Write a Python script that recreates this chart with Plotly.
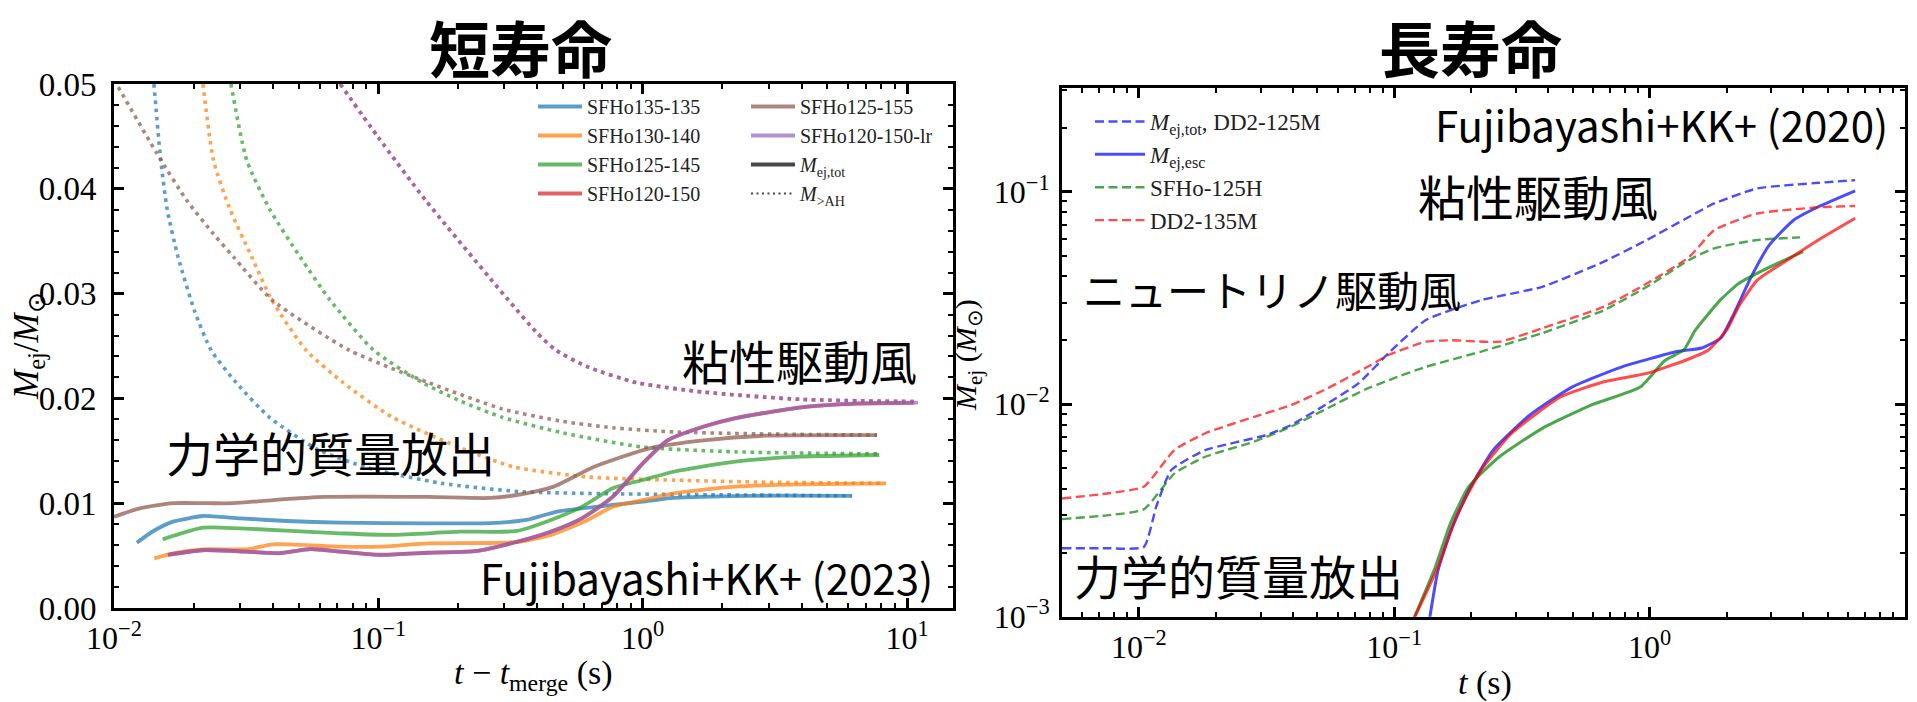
import plotly.graph_objects as go

# ---------------- short-lived remnants (left panel) ----------------
# solid: M_ej,tot ; dotted: M_>AH  (t - t_merge in s, mass in M_sun)
t_135_135 = [0.0122, 0.0140, 0.0167, 0.0195, 0.0217, 0.030, 0.045, 0.0717, 0.155, 0.265, 0.363, 0.475, 0.77, 1.0, 1.31, 2.5, 6.16]
m_135_135 = [0.00623, 0.0073, 0.00824, 0.0086, 0.00878, 0.00856, 0.0083, 0.00814, 0.00808, 0.0081, 0.0084, 0.0092, 0.00983, 0.01015, 0.0105, 0.0107, 0.0107]

t_130_140 = [0.0142, 0.0167, 0.0217, 0.0318, 0.040, 0.0717, 0.101, 0.155, 0.265, 0.345, 0.45, 0.62, 0.77, 1.0, 1.31, 2.24, 3.94, 8.3]
m_130_140 = [0.00474, 0.00522, 0.0056, 0.0056, 0.00608, 0.00585, 0.00585, 0.00617, 0.0062, 0.00633, 0.00697, 0.0084, 0.00967, 0.0103, 0.01094, 0.01158, 0.0118, 0.0119]

t_125_145 = [0.01528, 0.0217, 0.030, 0.0717, 0.113, 0.203, 0.334, 0.45, 0.59, 0.77, 1.0, 1.31, 2.24, 3.94, 7.85]
m_125_145 = [0.00655, 0.00766, 0.0076, 0.00713, 0.00697, 0.00728, 0.00735, 0.0084, 0.00967, 0.01142, 0.01221, 0.013, 0.01396, 0.01444, 0.0146]

t_120_150 = [0.016, 0.0217, 0.0318, 0.0425, 0.0553, 0.0717, 0.101, 0.155, 0.237, 0.345, 0.45, 0.59, 0.77, 1.0, 1.24, 1.70, 2.24, 3.94, 6.5, 10.6]
m_120_150 = [0.00508, 0.00551, 0.00538, 0.00524, 0.00561, 0.00539, 0.00508, 0.00527, 0.00546, 0.00640, 0.00730, 0.00858, 0.01060, 0.01378, 0.01598, 0.01732, 0.01812, 0.01913, 0.01950, 0.01958]

t_125_155 = [0.01, 0.0125, 0.0167, 0.0225, 0.0282, 0.04, 0.0626, 0.155, 0.265, 0.363, 0.46, 0.656, 1.06, 1.70, 2.9, 7.7]
m_125_155 = [0.0087, 0.0095, 0.0100, 0.0100, 0.0100, 0.0103, 0.0106, 0.0106, 0.0105, 0.01094, 0.01158, 0.01348, 0.01524, 0.016, 0.01644, 0.0165]

t_120_150_lr = [0.016, 0.0217, 0.0318, 0.0425, 0.0553, 0.0717, 0.101, 0.155, 0.237, 0.345, 0.45, 0.59, 0.77, 1.0, 1.24, 1.70, 2.24, 3.94, 6.5, 11.0]
m_120_150_lr = [0.00506, 0.00553, 0.00537, 0.00522, 0.00563, 0.00537, 0.00506, 0.00528, 0.00544, 0.00642, 0.00728, 0.00856, 0.01063, 0.01381, 0.016, 0.0173, 0.0181, 0.01915, 0.01953, 0.0196]

ah_t_135_135 = [0.01416, 0.01503, 0.0159, 0.01747, 0.0202, 0.0233, 0.029, 0.0387, 0.0592, 0.0907, 0.173, 0.344, 0.767, 2.0, 6.2]
ah_m_135_135 = [0.0500, 0.0427, 0.0380, 0.0335, 0.0283, 0.0246, 0.0215, 0.0182, 0.0151, 0.0134, 0.0119, 0.0111, 0.0109, 0.0108, 0.0107]

ah_t_130_140 = [0.0217, 0.0238, 0.0275, 0.0332, 0.0395, 0.0533, 0.0736, 0.113, 0.213, 0.327, 0.622, 1.32, 3.0, 8.3]
ah_m_130_140 = [0.0500, 0.0427, 0.0380, 0.0335, 0.0294, 0.0246, 0.0215, 0.0182, 0.0151, 0.01345, 0.0125, 0.0122, 0.0120, 0.0119]

ah_t_125_145 = [0.0277, 0.0318, 0.0389, 0.0506, 0.0656, 0.096, 0.147, 0.202, 0.294, 0.50, 1.0, 2.24, 7.85]
ah_m_125_145 = [0.0500, 0.0427, 0.0380, 0.0335, 0.0294, 0.0246, 0.0215, 0.0198, 0.0182, 0.0167, 0.01536, 0.0149, 0.0147]

ah_t_120_150 = [0.0717, 0.100, 0.151, 0.31, 0.40, 0.47, 0.62, 0.95, 1.70, 4.0, 10.6]
ah_m_120_150 = [0.0500, 0.0449, 0.0389, 0.0294, 0.0262, 0.0246, 0.0230, 0.0215, 0.0206, 0.0199, 0.0197]

ah_t_125_155 = [0.01038, 0.01451, 0.01884, 0.02377, 0.02832, 0.0396, 0.0776, 0.155, 0.294, 0.50, 0.77, 1.32, 3.0, 7.7]
ah_m_125_155 = [0.0497, 0.0434, 0.0389, 0.0357, 0.0335, 0.0294, 0.0246, 0.0215, 0.0190, 0.0178, 0.0172, 0.0168, 0.0166, 0.0165]

ah_t_120_150_lr = [0.0717, 0.100, 0.151, 0.31, 0.40, 0.47, 0.62, 0.95, 1.70, 4.0, 11.0]
ah_m_120_150_lr = [0.0500, 0.0449, 0.0389, 0.0294, 0.0262, 0.0246, 0.0230, 0.0215, 0.0206, 0.0199, 0.0197]

# ---------------- long-lived remnants (right panel) ----------------
tot_t_dd2_125 = [0.005, 0.0075, 0.01045, 0.0117, 0.0134, 0.0182, 0.0315, 0.0394, 0.055, 0.0724, 0.0955, 0.133, 0.219, 0.38, 0.662, 0.975, 1.43, 1.79, 2.64, 4.58, 6.38]
tot_m_dd2_125 = [0.0021, 0.0021, 0.00213, 0.0033, 0.0049, 0.00608, 0.00716, 0.00798, 0.0101, 0.01254, 0.0175, 0.0249, 0.0309, 0.0357, 0.0469, 0.0593, 0.0763, 0.0881, 0.1037, 0.1102, 0.1134]

tot_t_sfho_125 = [0.005, 0.0075, 0.01045, 0.0138, 0.0182, 0.0283, 0.0394, 0.055, 0.0766, 0.0955, 0.133, 0.219, 0.38, 0.662, 0.975, 1.43, 1.79, 2.64, 3.88]
tot_m_sfho_125 = [0.00288, 0.0030, 0.0032, 0.00473, 0.00566, 0.00667, 0.00784, 0.0096, 0.0117, 0.0130, 0.0150, 0.0177, 0.0216, 0.0277, 0.0357, 0.0478, 0.0542, 0.0593, 0.0610]

tot_t_dd2_135 = [0.005, 0.0075, 0.01045, 0.0138, 0.0182, 0.0283, 0.0394, 0.055, 0.0766, 0.0955, 0.133, 0.166, 0.259, 0.38, 0.662, 0.975, 1.43, 1.79, 2.64, 4.58, 6.38]
tot_m_dd2_135 = [0.0036, 0.0038, 0.00409, 0.0061, 0.0073, 0.00873, 0.0099, 0.0119, 0.01475, 0.0171, 0.0197, 0.0200, 0.0197, 0.0228, 0.0288, 0.0370, 0.0494, 0.0660, 0.0790, 0.0845, 0.0857]

esc_t_dd2_125 = [0.137, 0.1485, 0.166, 0.196, 0.244, 0.34, 0.5, 0.78, 1.28, 1.6, 1.9, 2.11, 2.5, 2.94, 3.67, 4.58, 6.38]
esc_m_dd2_125 = [0.00095, 0.00166, 0.00251, 0.00394, 0.00608, 0.0089, 0.0121, 0.0150, 0.0177, 0.0184, 0.0205, 0.0258, 0.0398, 0.0561, 0.0736, 0.0850, 0.1010]

esc_t_sfho_125 = [0.118, 0.1445, 0.166, 0.196, 0.258, 0.38, 0.59, 0.923, 1.15, 1.36, 1.51, 1.89, 2.23, 2.79, 3.99]
esc_m_sfho_125 = [0.00095, 0.0017, 0.00275, 0.0041, 0.00566, 0.0077, 0.0099, 0.0121, 0.0161, 0.0180, 0.0223, 0.0309, 0.0370, 0.0428, 0.0523]

esc_t_dd2_135 = [0.118, 0.1485, 0.175, 0.219, 0.288, 0.449, 0.662, 0.975, 1.39, 1.7, 2.0, 2.23, 2.64, 3.47, 4.58, 6.38]
esc_m_dd2_135 = [0.00095, 0.00172, 0.00295, 0.0049, 0.0073, 0.01084, 0.01276, 0.01397, 0.01615, 0.0180, 0.0223, 0.0288, 0.0384, 0.0478, 0.0593, 0.0750]

# tick labels
left_x_ticks = [0.01, 0.1, 1, 10]
left_x_text = ["10<sup>−2</sup>", "10<sup>−1</sup>", "10<sup>0</sup>", "10<sup>1</sup>"]
left_y_ticks = [0.0, 0.01, 0.02, 0.03, 0.04, 0.05]
left_y_text = ["0.00", "0.01", "0.02", "0.03", "0.04", "0.05"]
right_x_ticks = [0.01, 0.1, 1, 10]
right_x_text = ["10<sup>−2</sup>", "10<sup>−1</sup>", "10<sup>0</sup>", "10<sup>1</sup>"]
right_y_ticks = [0.001, 0.01, 0.1]
right_y_text = ["10<sup>−3</sup>", "10<sup>−2</sup>", "10<sup>−1</sup>"]

# ---------------- styling ----------------
W, H = 1917, 702
SERIF = "Liberation Serif"
JP = "Noto Sans CJK JP"

C_BLUE = "rgba(31,119,180,0.72)"
C_ORANGE = "rgba(255,127,14,0.72)"
C_GREEN = "rgba(44,160,44,0.72)"
C_RED = "rgba(214,39,40,0.72)"
C_PURPLE = "rgba(148,103,189,0.72)"
C_BROWN = "rgba(140,86,75,0.72)"
C_GRAY = "rgba(0,0,0,0.72)"

R_BLUE = "rgba(0,0,255,0.7)"
R_GREEN = "rgba(0,128,0,0.7)"
R_RED = "rgba(255,0,0,0.7)"

SOLID_W = 3.8
DOT_W = 3.6
DOT = "3.6px,4.6px"
DASH = "9px,4.5px"

fig = go.Figure()


def left_solid(t, m, color, name, legend):
    fig.add_trace(go.Scatter(x=t, y=m, mode="lines", name=name, legend=legend,
                             line=dict(color=color, width=SOLID_W, shape="spline", smoothing=0.6),
                             xaxis="x", yaxis="y", hoverinfo="skip"))


def left_dotted(t, m, color):
    fig.add_trace(go.Scatter(x=t, y=m, mode="lines", showlegend=False,
                             line=dict(color=color, width=DOT_W, dash=DOT, shape="spline", smoothing=0.6),
                             xaxis="x", yaxis="y", hoverinfo="skip"))


# dotted M_>AH curves first so the solid curves lie on top
left_dotted(ah_t_135_135, ah_m_135_135, C_BLUE)
left_dotted(ah_t_130_140, ah_m_130_140, C_ORANGE)
left_dotted(ah_t_125_145, ah_m_125_145, C_GREEN)
left_dotted(ah_t_125_155, ah_m_125_155, C_BROWN)
left_dotted(ah_t_120_150, ah_m_120_150, C_RED)
left_dotted(ah_t_120_150_lr, ah_m_120_150_lr, C_PURPLE)

left_solid(t_135_135, m_135_135, C_BLUE, "SFHo135-135", "legend")
left_solid(t_130_140, m_130_140, C_ORANGE, "SFHo130-140", "legend")
left_solid(t_125_145, m_125_145, C_GREEN, "SFHo125-145", "legend")
left_solid(t_120_150, m_120_150, C_RED, "SFHo120-150", "legend")
left_solid(t_125_155, m_125_155, C_BROWN, "SFHo125-155", "legend2")
left_solid(t_120_150_lr, m_120_150_lr, C_PURPLE, "SFHo120-150-lr", "legend2")

# legend-only keys for the two line styles
fig.add_trace(go.Scatter(x=[None], y=[None], mode="lines", name="<i>M</i><sub>ej,tot</sub>",
                         legend="legend2", line=dict(color=C_GRAY, width=SOLID_W), xaxis="x", yaxis="y"))
fig.add_trace(go.Scatter(x=[None], y=[None], mode="lines", name="<i>M</i><sub>>AH</sub>",
                         legend="legend2", line=dict(color=C_GRAY, width=2.2, dash="2px,3.5px"), xaxis="x", yaxis="y"))


# right panel
def right_line(t, m, color, name, dashed, show, width):
    fig.add_trace(go.Scatter(x=t, y=m, mode="lines", name=name, legend="legend3", showlegend=show,
                             line=dict(color=color, width=width, dash=DASH if dashed else "solid",
                                       shape="spline", smoothing=0.5),
                             xaxis="x2", yaxis="y2", hoverinfo="skip"))


right_line(tot_t_dd2_125, tot_m_dd2_125, R_BLUE, "<i>M</i><sub>ej,tot</sub>, DD2-125M", True, True, 2.4)
right_line(esc_t_dd2_125, esc_m_dd2_125, R_BLUE, "<i>M</i><sub>ej,esc</sub>", False, True, 3.0)
right_line(tot_t_sfho_125, tot_m_sfho_125, R_GREEN, "SFHo-125H", True, True, 2.4)
right_line(tot_t_dd2_135, tot_m_dd2_135, R_RED, "DD2-135M", True, True, 2.4)
right_line(esc_t_sfho_125, esc_m_sfho_125, R_GREEN, "SFHo-125H esc", False, False, 3.0)
right_line(esc_t_dd2_135, esc_m_dd2_135, R_RED, "DD2-135M esc", False, False, 3.0)

# ---------------- axes ----------------
frame = dict(showline=True, linewidth=3, linecolor="black", mirror="ticks",
             ticks="inside", ticklen=10, tickwidth=2.5, tickcolor="black",
             showgrid=False, zeroline=False, automargin=False,
             tickfont=dict(family=SERIF, size=32, color="black"))


def minor_log(lo, hi):
    vals = []
    for e in range(lo, hi + 1):
        for k in range(2, 10):
            vals.append(k * 10.0 ** e)
    return vals


minor_style = dict(ticks="inside", ticklen=5, tickwidth=2, tickcolor="black")

L_X0, L_X1 = 114 / W, 953 / W
L_Y0, L_Y1 = 1 - 608 / H, 1 - 84 / H
R_X0, R_X1 = 1062 / W, 1905 / W
R_Y0, R_Y1 = 1 - 616.7 / H, 1 - 88.3 / H

fig.update_layout(
    xaxis=dict(frame, type="log", range=[-2, 1.174], domain=[L_X0, L_X1], anchor="y",
               tickmode="array", tickvals=left_x_ticks, ticktext=left_x_text,
               minor=dict(minor_style, tickvals=minor_log(-2, 1))),
    yaxis=dict(frame, range=[0, 0.05], domain=[L_Y0, L_Y1], anchor="x",
               tickmode="array", tickvals=left_y_ticks, ticktext=left_y_text,
               ticklabelstandoff=8, tickfont=dict(family=SERIF, size=33, color="black"),
               minor=dict(minor_style, tickvals=[0.002, 0.004, 0.006, 0.008, 0.012, 0.014, 0.016, 0.018,
                                                 0.022, 0.024, 0.026, 0.028, 0.032, 0.034, 0.036, 0.038,
                                                 0.042, 0.044, 0.046, 0.048])),
    xaxis2=dict(frame, type="log", range=[-2.301, 1.0], domain=[R_X0, R_X1], anchor="y2",
                tickmode="array", tickvals=right_x_ticks, ticktext=right_x_text,
                minor=dict(minor_style, tickvals=minor_log(-3, 0))),
    yaxis2=dict(frame, type="log", range=[-3, -0.513], domain=[R_Y0, R_Y1], anchor="x2",
                tickmode="array", tickvals=right_y_ticks, ticktext=right_y_text,
                ticklabelstandoff=3,
                minor=dict(minor_style, tickvals=minor_log(-3, -1))),
)

legend_common = dict(bgcolor="rgba(0,0,0,0)", borderwidth=0, traceorder="normal",
                     xanchor="left", yanchor="top", itemwidth=44, tracegroupgap=0)
fig.update_layout(
    legend=dict(legend_common, x=533 / W, y=1 - 87 / H, font=dict(family=SERIF, size=20, color="#222")),
    legend2=dict(legend_common, x=746 / W, y=1 - 87 / H, font=dict(family=SERIF, size=20, color="#222")),
    legend3=dict(legend_common, x=1090 / W, y=1 - 100 / H, itemwidth=50,
                 font=dict(family=SERIF, size=23, color="#222")),
)


# ---------------- text ----------------
def note(x, y, text, size, family=JP, bold=False, angle=0, yanchor="middle"):
    fig.add_annotation(x=x / W, y=1 - y / H, xref="paper", yref="paper",
                       text=f"<b>{text}</b>" if bold else text,
                       showarrow=False, xanchor="center", yanchor=yanchor, textangle=angle,
                       font=dict(family=family, size=size, color="black"))


note(520, 0, "短寿命", 61, bold=True, yanchor="top")
note(1470, 0, "長寿命", 61, bold=True, yanchor="top")
note(799, 359, "粘性駆動風", 47)
note(330, 451, "力学的質量放出", 47)
note(706, 576, "Fujibayashi+KK+ (2023)", 42)
note(1661, 124, "Fujibayashi+KK+ (2020)", 42)
note(1538, 195, "粘性駆動風", 48)
note(1272, 288, "ニュートリノ駆動風", 42)
note(1238, 574, "力学的質量放出", 47)

# axis titles
note(533, 675, "<i>t</i> − <i>t</i><sub>merge</sub> (s)", 34, family=SERIF)
note(1485, 683, "<i>t</i> (s)", 34, family=SERIF)
note(29, 346, "<i>M</i><sub>ej</sub>/<i>M</i><sub>⊙</sub>", 35, family=SERIF, angle=-90)
note(968, 355, "<i>M</i><sub>ej</sub> (<i>M</i><sub>⊙</sub>)", 30, family=SERIF, angle=-90)

fig.update_layout(width=W, height=H, margin=dict(l=0, r=0, t=0, b=0),
                  paper_bgcolor="white", plot_bgcolor="white", template=None,
                  showlegend=True)

fig.write_html("out.html")
